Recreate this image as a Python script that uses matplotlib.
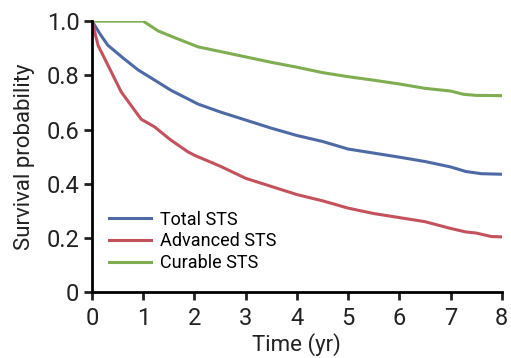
import matplotlib
matplotlib.use("Agg")
import matplotlib.pyplot as plt

# data (years, survival probability)
t_total = [0, 0.05, 0.18, 0.31, 0.6, 0.9, 1.2, 1.54, 2.07, 2.5, 3.0, 3.5, 4.0, 4.5, 5.0, 5.5, 6.0, 6.5, 7.0, 7.3, 7.6, 8.0]
s_total = [1.0, 0.985, 0.946, 0.911, 0.865, 0.82, 0.785, 0.745, 0.694, 0.665, 0.635, 0.605, 0.578, 0.556, 0.528, 0.513, 0.498, 0.482, 0.462, 0.445, 0.437, 0.435]

t_adv = [0, 0.12, 0.31, 0.57, 0.96, 1.22, 1.54, 1.87, 2.0, 2.5, 3.0, 3.5, 4.0, 4.5, 5.0, 5.5, 6.0, 6.5, 6.8, 7.0, 7.3, 7.5, 7.8, 8.0]
s_adv = [1.0, 0.91, 0.838, 0.739, 0.638, 0.61, 0.561, 0.518, 0.505, 0.465, 0.42, 0.39, 0.36, 0.337, 0.31, 0.29, 0.275, 0.26, 0.245, 0.235, 0.222, 0.218, 0.205, 0.204]

t_cur = [0, 1.0, 1.29, 1.6, 2.07, 2.5, 3.0, 3.5, 4.0, 4.5, 5.0, 5.5, 6.0, 6.5, 7.0, 7.25, 7.5, 8.0]
s_cur = [1.0, 1.0, 0.964, 0.94, 0.905, 0.888, 0.868, 0.848, 0.83, 0.81, 0.795, 0.782, 0.768, 0.752, 0.742, 0.73, 0.726, 0.725]

labels = ["Total STS", "Advanced STS", "Curable STS"]
colors = ["#4e6aa6", "#c4525c", "#80ad52"]

plt.rcParams["font.family"] = ["Roboto", "DejaVu Sans"]

fig = plt.figure(figsize=(5.11, 3.58), dpi=100)
ax = fig.add_axes([0.18, 0.184, 0.802, 0.757])

for t, s, lab, c in zip([t_total, t_adv, t_cur], [s_total, s_adv, s_cur], labels, colors):
    ax.plot(t, s, color=c, lw=2.2, label=lab)

ax.set_xlim(0, 8)
ax.set_ylim(0, 1.0)
ax.set_xticks(range(0, 9))
ax.set_yticks([0, 0.2, 0.4, 0.6, 0.8, 1.0])
ax.set_yticklabels(["0", "0.2", "0.4", "0.6", "0.8", "1.0"])
ax.spines["top"].set_visible(False)
ax.spines["right"].set_visible(False)
for sp in ("left", "bottom"):
    ax.spines[sp].set_linewidth(2)
    ax.spines[sp].set_clip_on(False)
ax.tick_params(width=2, length=6, labelsize=17, direction="out", colors="#222222", labelcolor="#222222")
ax.tick_params(axis="x", pad=5)
ax.tick_params(axis="y", pad=3)
ax.set_xlabel("Time (yr)", fontsize=16, labelpad=2, color="#222222")
ax.set_ylabel("Survival probability", fontsize=16, labelpad=8, color="#222222")

ax.legend(loc="lower left", bbox_to_anchor=(0.024, 0.048), borderaxespad=0, frameon=False,
          fontsize=13, handlelength=2.3, handletextpad=0.5, labelspacing=0.2)

fig.savefig("out.png", dpi=100)
